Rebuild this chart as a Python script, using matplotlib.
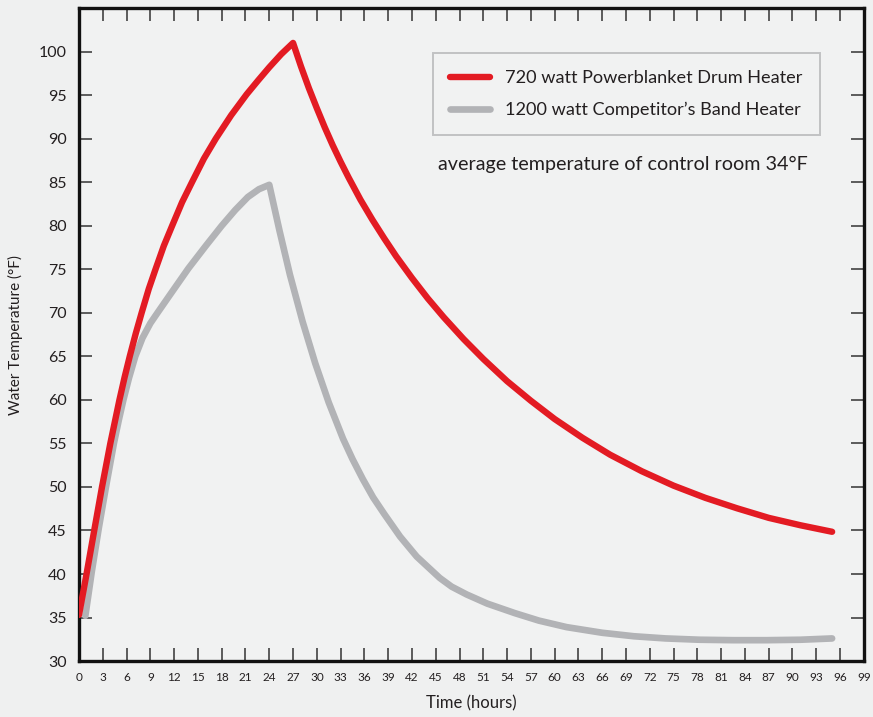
import matplotlib
matplotlib.use('Agg')
import matplotlib.pyplot as plt

plt.rcParams['font.family'] = ['Lato', 'DejaVu Sans']

# 720 watt Powerblanket Drum Heater (hours, deg F)
red_hours = [0, 0.95, 1.9, 2.9, 3.95, 5.1, 5.75, 6.4, 7.15, 7.9, 8.8, 9.65, 10.7, 11.75, 13,
             14.25, 15.75, 17.25, 19.2, 21.15, 22.6, 24, 25.5, 27,
             28, 29, 30, 31, 32, 33, 34, 35.5, 37, 38.5, 40, 42, 44, 46, 48.5, 51, 54, 57,
             60, 63.5, 67, 71, 75, 79, 83, 87, 91, 95]
red_temps = [35.3, 40, 44.9, 50, 55, 60, 62.6, 65, 67.6, 70, 72.75, 75, 77.7, 80, 82.7,
             85, 87.7, 90, 92.7, 95.1, 96.7, 98.2, 99.7, 101,
             98.3, 95.8, 93.5, 91.3, 89.25, 87.35, 85.55, 83, 80.7, 78.55, 76.5, 74, 71.65,
             69.5, 67, 64.7, 62.15, 59.9, 57.8, 55.65, 53.7, 51.8, 50.15, 48.75, 47.55,
             46.45, 45.6, 44.85]

# 1200 watt Competitor's Band Heater
gray_hours = [0.8, 1.6, 2.5, 3.4, 4.4, 5.0, 5.6, 6.3, 7.1, 8.0, 9.0, 9.9, 11.5, 13.8, 16,
              18, 19.7, 21.3, 22.7, 24,
              25.3, 26.6, 28.2, 29.8, 31.5, 33.3, 34.5, 35.8, 37.1, 38.5, 40.5, 42.6, 45.5, 47,
              48.9, 51.5, 55, 58, 61.5, 66, 70, 74, 78.3, 82.5, 86.8, 91, 95]
gray_temps = [35.2, 40.2, 45.3, 50, 55, 57.6, 60, 62.5, 65, 67.1, 68.8, 70, 72.1, 75.1, 77.7,
              80, 81.8, 83.3, 84.2, 84.7,
              79.4, 74.4, 69, 64.2, 59.7, 55.55, 53.2, 50.9, 48.8, 46.9, 44.3, 42, 39.55, 38.55,
              37.65, 36.6, 35.5, 34.65, 33.9, 33.25, 32.85, 32.6, 32.45, 32.4, 32.4, 32.45, 32.6]

labels = ['720 watt Powerblanket Drum Heater', '1200 watt Competitor\u2019s Band Heater']
xticks = list(range(0, 100, 3))
yticks = list(range(30, 105, 5))

bg = '#eff0f0'
fig = plt.figure(figsize=(8.73, 7.17), dpi=100, facecolor=bg)
ax = fig.add_axes([0.0905, 0.078, 0.899, 0.9107])
ax.set_facecolor('#f1f2f2')

ax.plot(red_hours, red_temps, color='#e31b23', lw=4.6, solid_capstyle='round',
        solid_joinstyle='round', label=labels[0], zorder=3)
ax.plot(gray_hours, gray_temps, color='#b2b3b6', lw=4.8, solid_capstyle='round',
        solid_joinstyle='round', label=labels[1], zorder=2)

ax.set_xlim(0, 99)
ax.set_ylim(30, 105)
ax.set_xticks(xticks)
ax.set_yticks(yticks)
ax.tick_params(axis='both', direction='in', length=9.5, width=1.1, color='#333333',
               top=True, right=True)
ax.tick_params(axis='x', labelsize=8.5, pad=8, labelcolor='#231f20')
ax.tick_params(axis='y', labelsize=11.5, pad=9, labelcolor='#231f20')
for s in ax.spines.values():
    s.set_linewidth(2.4)
    s.set_color('#111111')

ax.set_xlabel('Time (hours)', fontsize=12, color='#231f20', labelpad=9)
ax.set_ylabel('Water Temperature (\u00b0F)', fontsize=11, color='#231f20', labelpad=11)

leg = ax.legend(loc='upper left', bbox_to_anchor=(0.496, 0.926), bbox_transform=fig.transFigure,
                borderaxespad=0, fontsize=13.1, handlelength=2.2, handletextpad=0.8,
                borderpad=0.95, labelspacing=0.85, fancybox=False, frameon=True)
leg.get_frame().set_edgecolor('#b5b6b8')
leg.get_frame().set_linewidth(1.4)
leg.get_frame().set_facecolor('#f1f2f2')
for t in leg.get_texts():
    t.set_color('#231f20')

fig.text(0.502, 0.770, 'average temperature of control room 34\u00b0F', fontsize=14.2,
         color='#231f20', va='center', ha='left')

fig.savefig('out.png', dpi=100, facecolor=bg)
